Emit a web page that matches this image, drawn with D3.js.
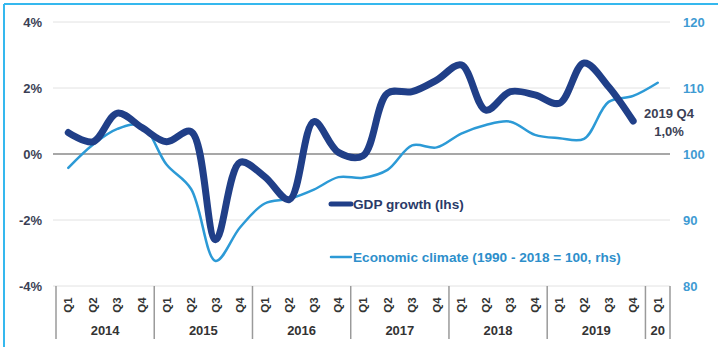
<!DOCTYPE html>
<html>
<head>
<meta charset="utf-8">
<script src="https://cdn.jsdelivr.net/npm/d3@7"></script>
<style>
  html, body { margin: 0; padding: 0; background: #fff; }
  svg { display: block; font-family: "Liberation Sans", Arial, sans-serif; }
</style>
</head>
<body>
<svg id="chart" width="718" height="347"></svg>
<script>
// Quarterly categories, 2014 Q1 .. 2020 Q1
const quarters = ["Q1","Q2","Q3","Q4","Q1","Q2","Q3","Q4","Q1","Q2","Q3","Q4",
                  "Q1","Q2","Q3","Q4","Q1","Q2","Q3","Q4","Q1","Q2","Q3","Q4","Q1"];
const years = ["2014","2015","2016","2017","2018","2019","20"];
const quartersPerYear = [4, 4, 4, 4, 4, 4, 1];

// GDP growth, % (left axis) — through 2019 Q4
const gdpGrowth = [0.65, 0.37, 1.24, 0.8, 0.37, 0.68, -2.6, -0.25, -0.69, -1.38, 0.98, 0.05,
                   -0.05, 1.84, 1.89, 2.24, 2.7, 1.33, 1.89, 1.79, 1.54, 2.76, 2.04, 1.0];
// Economic climate index, 1990-2018 = 100 (right axis)
const economicClimate = [97.9, 101.4, 103.8, 104.3, 98.4, 94.7, 83.8, 88.9, 92.5, 93.2, 94.6, 96.5,
                         96.4, 97.6, 101.3, 101.0, 103.1, 104.4, 104.9, 102.9, 102.4, 102.3, 107.9, 108.8, 110.8];

const leftTicks = [-4, -2, 0, 2, 4];
const rightTicks = [80, 90, 100, 110, 120];

const svg = d3.select("#chart");
const W = 718, H = 347;
const plot = { left: 56, right: 670, top: 22, bottom: 286 };

const idx = d3.range(quarters.length);
const x = d3.scaleBand().domain(idx).range([plot.left, plot.right]).paddingInner(0).paddingOuter(0);
const cx = i => x(i) + x.bandwidth() / 2;
const yL = d3.scaleLinear().domain([-4, 4]).range([plot.bottom, plot.top]);
const yR = d3.scaleLinear().domain([80, 120]).range([plot.bottom, plot.top]);

// frame (top and left edges)
svg.append("line").attr("x1", 4).attr("x2", W).attr("y1", 4).attr("y2", 4)
  .attr("stroke", "#35b8ee").attr("stroke-width", 2);
svg.append("line").attr("x1", 4).attr("x2", 4).attr("y1", 4).attr("y2", H)
  .attr("stroke", "#35b8ee").attr("stroke-width", 2);

// horizontal gridlines
svg.append("g").selectAll("line").data(leftTicks).join("line")
  .attr("x1", plot.left - 3).attr("x2", plot.right)
  .attr("y1", d => yL(d)).attr("y2", d => yL(d))
  .attr("stroke", d => d === 0 ? "#8a8a8a" : "#e2e2e2")
  .attr("stroke-width", d => d === 0 ? 1.6 : 1);

// left axis
const axL = svg.append("g").attr("transform", `translate(${plot.left - 14},0)`)
  .call(d3.axisLeft(yL).tickValues(leftTicks).tickSize(0).tickPadding(0).tickFormat(d => d + "%"));
axL.select(".domain").remove();
axL.selectAll("text").attr("font-size", 13).attr("font-weight", "bold")
  .attr("fill", "#3b3f55").attr("font-family", "Liberation Sans, Arial, sans-serif");

// right axis
const axR = svg.append("g").attr("transform", `translate(${plot.right + 13},0)`)
  .call(d3.axisRight(yR).tickValues(rightTicks).tickSize(0).tickPadding(0));
axR.select(".domain").remove();
axR.selectAll("text").attr("font-size", 13).attr("font-weight", "bold")
  .attr("fill", "#3f9bd3").attr("font-family", "Liberation Sans, Arial, sans-serif");

// category axis: quarter labels, year labels, separators
const qg = svg.append("g");
qg.selectAll("text").data(idx).join("text")
  .attr("transform", i => `translate(${cx(i)},305) rotate(-90)`)
  .attr("text-anchor", "middle").attr("dominant-baseline", "central")
  .attr("font-size", 11.5).attr("font-weight", "bold").attr("fill", "#333")
  .text(i => quarters[i]);

const starts = [];
let acc = 0;
quartersPerYear.forEach(n => { starts.push(acc); acc += n; });
const boundaries = starts.map(s => x(s)).concat([plot.right]);

svg.append("g").selectAll("line").data(boundaries).join("line")
  .attr("x1", d => d).attr("x2", d => d).attr("y1", plot.bottom).attr("y2", 339)
  .attr("stroke", "#9a9a9a").attr("stroke-width", 1.5);

svg.append("g").selectAll("text").data(years).join("text")
  .attr("x", (d, k) => (boundaries[k] + boundaries[k + 1]) / 2)
  .attr("y", 330).attr("dominant-baseline", "central").attr("text-anchor", "middle")
  .attr("font-size", 13).attr("font-weight", "bold").attr("fill", "#333")
  .text(d => d);

// series lines
const climateLine = d3.line().x((d, i) => cx(i)).y(d => yR(d)).curve(d3.curveCatmullRom.alpha(0.5));
const gdpLine = d3.line().x((d, i) => cx(i)).y(d => yL(d)).curve(d3.curveCatmullRom.alpha(0.5));

svg.append("path").datum(economicClimate).attr("d", climateLine)
  .attr("fill", "none").attr("stroke", "#2c9ad6").attr("stroke-width", 2.5)
  .attr("stroke-linecap", "round").attr("stroke-linejoin", "round");

svg.append("path").datum(gdpGrowth).attr("d", gdpLine)
  .attr("fill", "none").attr("stroke", "#203f88").attr("stroke-width", 7)
  .attr("stroke-linecap", "round").attr("stroke-linejoin", "round");

// legend
const leg = svg.append("g");
leg.append("line").attr("x1", 331).attr("x2", 351).attr("y1", 204).attr("y2", 204)
  .attr("stroke", "#203f88").attr("stroke-width", 5).attr("stroke-linecap", "round");
leg.append("text").attr("x", 353).attr("y", 204).attr("dominant-baseline", "central")
  .attr("font-size", 13.6).attr("font-weight", "bold").attr("fill", "#2a3a68")
  .text("GDP growth (lhs)");
leg.append("line").attr("x1", 331).attr("x2", 351).attr("y1", 257).attr("y2", 257)
  .attr("stroke", "#2c9ad6").attr("stroke-width", 2.5).attr("stroke-linecap", "round");
leg.append("text").attr("x", 353).attr("y", 257).attr("dominant-baseline", "central")
  .attr("font-size", 13.6).attr("font-weight", "bold").attr("fill", "#2e8fcb")
  .text("Economic climate (1990 - 2018 = 100, rhs)");

// last-value annotation
const lastI = gdpGrowth.length - 1;
const ann = svg.append("g").attr("font-size", 13).attr("font-weight", "bold").attr("fill", "#3b3f55")
  .attr("text-anchor", "middle");
ann.append("text").attr("x", 669).attr("y", 113).attr("dominant-baseline", "central")
  .text(`2019 ${quarters[lastI]}`);
ann.append("text").attr("x", 669).attr("y", 131).attr("dominant-baseline", "central")
  .text(gdpGrowth[lastI].toFixed(1).replace(".", ",") + "%");
</script>
</body>
</html>
